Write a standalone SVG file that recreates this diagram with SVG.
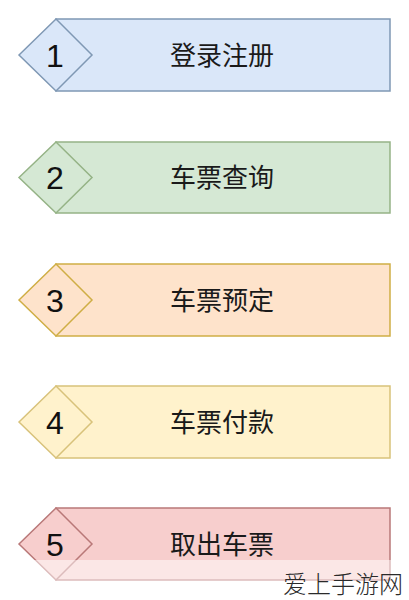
<svg xmlns="http://www.w3.org/2000/svg" width="409" height="600" viewBox="0 0 409 600">
<style>
.box{stroke-width:1.5}
.lbl{font-family:"Liberation Sans","Noto Sans CJK SC",sans-serif;font-size:26px;fill:#1a1a1a;text-anchor:middle;dominant-baseline:central}
.num{font-family:"Liberation Sans",Arial,sans-serif;font-size:32px;fill:#111;text-anchor:middle;dominant-baseline:central}
.b1{fill:#dae7f9;stroke:#7f98b4}
.b2{fill:#d5e8d4;stroke:#95b386}
.b3{fill:#fee3cb;stroke:#cfae45}
.b4{fill:#fff2cc;stroke:#d8c27a}
.b5{fill:#f7cecd;stroke:#b97878}
.wm{font-family:"Noto Sans CJK SC",sans-serif;font-weight:300;font-size:24px;fill:#2a2a2a}
</style>
<rect width="409" height="600" fill="#ffffff"/>
<g id="node1">
<rect class="box b1" x="56" y="19" width="334" height="72"/>
<polygon class="box b1" points="19,55 56,19 92,55 56,91"/>
<text class="num" x="55" y="56">1</text>
<text class="lbl" x="222" y="56">登录注册</text>
</g>
<g id="node2">
<rect class="box b2" x="56" y="142" width="334" height="71"/>
<polygon class="box b2" points="19,177.5 56,142 92,177.5 56,213"/>
<text class="num" x="55" y="178">2</text>
<text class="lbl" x="222" y="178">车票查询</text>
</g>
<g id="node3">
<rect class="box b3" x="56" y="264" width="334" height="72"/>
<polygon class="box b3" points="19,300 56,264 92,300 56,336"/>
<text class="num" x="55" y="301">3</text>
<text class="lbl" x="222" y="301">车票预定</text>
</g>
<g id="node4">
<rect class="box b4" x="56" y="386" width="334" height="72"/>
<polygon class="box b4" points="19,422 56,386 92,422 56,458"/>
<text class="num" x="55" y="423">4</text>
<text class="lbl" x="222" y="423">车票付款</text>
</g>
<g id="node5">
<rect class="box b5" x="56" y="508" width="334" height="72"/>
<polygon class="box b5" points="19,544 56,508 92,544 56,580"/>
<text class="num" x="55" y="545">5</text>
<text class="lbl" x="222" y="545">取出车票</text>
</g>
<g id="connectors"></g>
<rect x="0" y="560" width="409" height="40" fill="#ffffff" fill-opacity="0.5"/>
<text class="wm" x="283" y="593">爱上手游网</text>
</svg>
